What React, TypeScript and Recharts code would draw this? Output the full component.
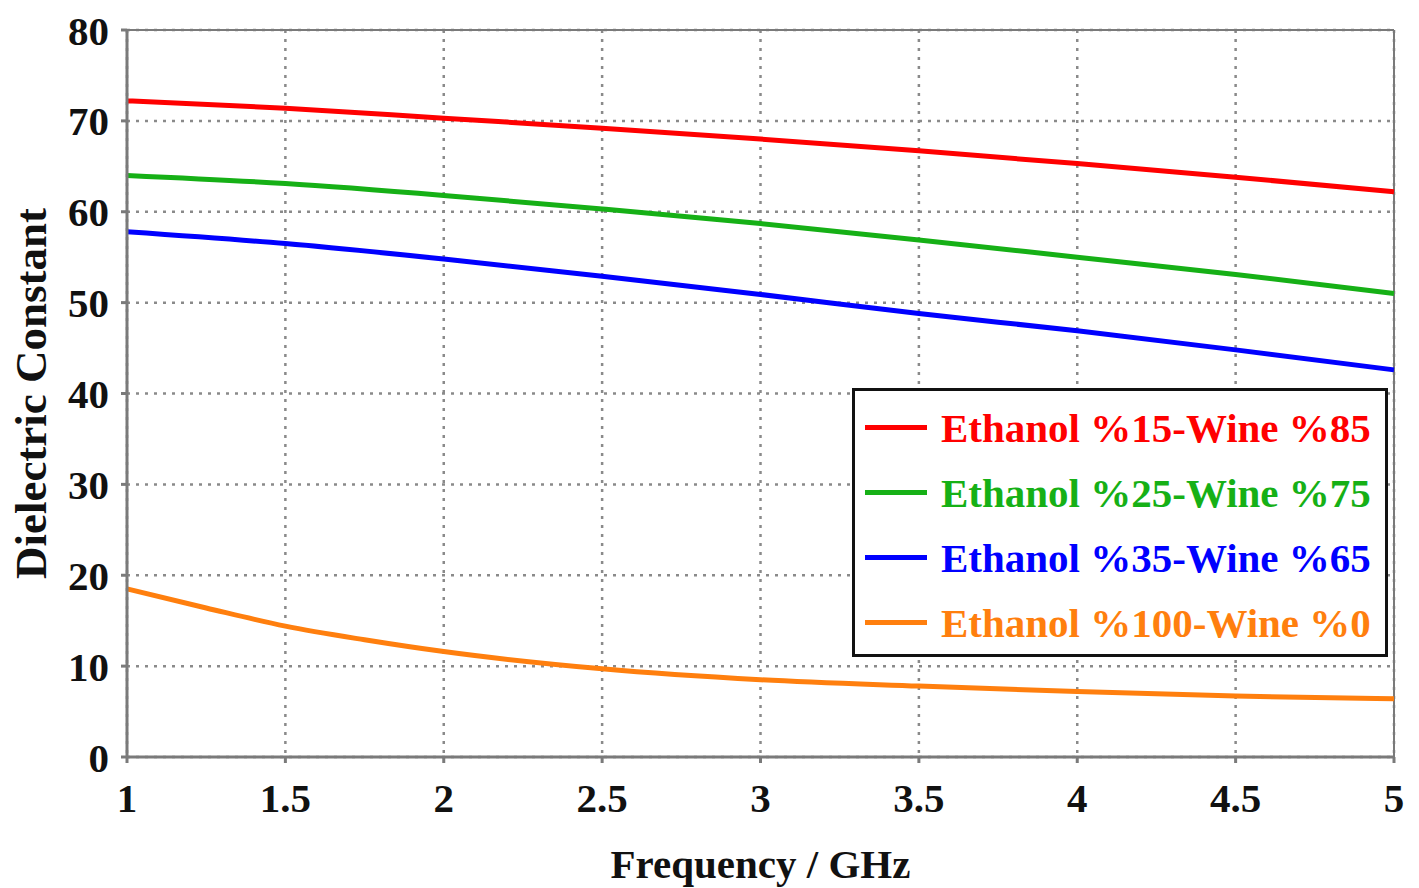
import React from 'react';
import {
    LineChart,
    Line,
    XAxis,
    YAxis,
    CartesianGrid,
    Legend,
    ReferenceLine,
} from 'recharts';

const freq = [1, 1.5, 2, 2.5, 3, 3.5, 4, 4.5, 5];
const ethanol15 = [72.2, 71.4, 70.3, 69.2, 68.0, 66.7, 65.3, 63.8, 62.2];
const ethanol25 = [64.0, 63.1, 61.8, 60.3, 58.7, 56.9, 55.0, 53.1, 51.0];
const ethanol35 = [57.8, 56.5, 54.8, 52.9, 50.9, 48.8, 46.9, 44.8, 42.6];

const freqPure = [1, 1.25, 1.5, 1.75, 2, 2.5, 3, 3.5, 4, 4.5, 5];
const ethanol100 = [18.5, 16.4, 14.4, 12.9, 11.6, 9.7, 8.5, 7.8, 7.2, 6.7, 6.4];

const xTicks = [1, 1.5, 2, 2.5, 3, 3.5, 4, 4.5, 5];
const yTicks = [0, 10, 20, 30, 40, 50, 60, 70, 80];

const seriesList = [
    { name: 'Ethanol %15-Wine %85', color: '#ff0000', xs: freq, ys: ethanol15 },
    { name: 'Ethanol %25-Wine %75', color: '#16b016', xs: freq, ys: ethanol25 },
    { name: 'Ethanol %35-Wine %65', color: '#0000ff', xs: freq, ys: ethanol35 },
    { name: 'Ethanol %100-Wine %0', color: '#ff7f0e', xs: freqPure, ys: ethanol100 },
];

const FONT = '"Liberation Serif", "Times New Roman", serif';
const AXIS_GRAY = '#7a7a7a';

const tickStyle = { fontFamily: FONT, fontSize: 41, fontWeight: 700, fill: '#111' };

// keep the legend in series order (recharts sorts it by name otherwise)
const LegendBox = () => (
    <div
        style={{
            border: '3px solid #111',
            background: '#fff',
            width: 536,
            height: 269,
            boxSizing: 'border-box',
            padding: '4px 0 0 10px',
        }}
    >
        {seriesList.map((s) => (
            <div
                key={s.name}
                style={{ display: 'flex', alignItems: 'center', height: 65 }}
            >
                <div
                    style={{
                        width: 62,
                        height: 5,
                        background: s.color,
                        marginRight: 14,
                    }}
                />
                <span
                    style={{
                        fontFamily: FONT,
                        fontSize: 41,
                        fontWeight: 700,
                        color: s.color,
                        whiteSpace: 'nowrap',
                    }}
                >
                    {s.name}
                </span>
            </div>
        ))}
    </div>
);

export default function App() {
    return (
        <div style={{ position: 'absolute', left: 0, top: 0, background: '#fff' }}>
            <LineChart
                width={1419}
                height={888}
                margin={{ top: 30, right: 25, bottom: 0, left: 0 }}
            >
                <CartesianGrid
                    stroke="#8a8a8a"
                    strokeWidth={2.5}
                    strokeDasharray="3 6"
                />
                <XAxis
                    dataKey="x"
                    type="number"
                    domain={[1, 5]}
                    ticks={xTicks}
                    allowDuplicatedCategory={false}
                    height={131}
                    stroke={AXIS_GRAY}
                    strokeWidth={3}
                    tickSize={6}
                    tickMargin={20}
                    tick={tickStyle}
                    label={{
                        content: ({ viewBox }: any) => (
                            <text
                                x={viewBox.x + viewBox.width / 2}
                                y={878}
                                textAnchor="middle"
                                style={{ fontFamily: FONT, fontSize: 41, fontWeight: 700, fill: '#111' }}
                            >
                                Frequency / GHz
                            </text>
                        ),
                    }}
                />
                <YAxis
                    domain={[0, 80]}
                    ticks={yTicks}
                    width={127}
                    stroke={AXIS_GRAY}
                    strokeWidth={3}
                    tickSize={6}
                    tickMargin={12}
                    tick={tickStyle}
                    label={{
                        content: ({ viewBox }: any) => {
                            const cy = viewBox.y + viewBox.height / 2;
                            return (
                                <text
                                    x={46}
                                    y={cy}
                                    transform={`rotate(-90, 46, ${cy})`}
                                    textAnchor="middle"
                                    style={{ fontFamily: FONT, fontSize: 45, fontWeight: 700, fill: '#111' }}
                                >
                                    Dielectric Constant
                                </text>
                            );
                        },
                    }}
                />
                <ReferenceLine y={80} stroke={AXIS_GRAY} strokeWidth={2} />
                <ReferenceLine x={5} stroke={AXIS_GRAY} strokeWidth={2} />
                <Legend
                    layout="horizontal"
                    verticalAlign="middle"
                    align="center"
                    content={<LegendBox />}
                    wrapperStyle={{ left: 852, top: 388, width: 536 }}
                />
                {seriesList.map((s) => (
                    <Line
                        key={s.name}
                        name={s.name}
                        data={s.xs.map((x, i) => ({ x, y: s.ys[i] }))}
                        dataKey="y"
                        type="monotone"
                        stroke={s.color}
                        strokeWidth={5}
                        dot={false}
                        isAnimationActive={false}
                    />
                ))}
            </LineChart>
        </div>
    );
}
